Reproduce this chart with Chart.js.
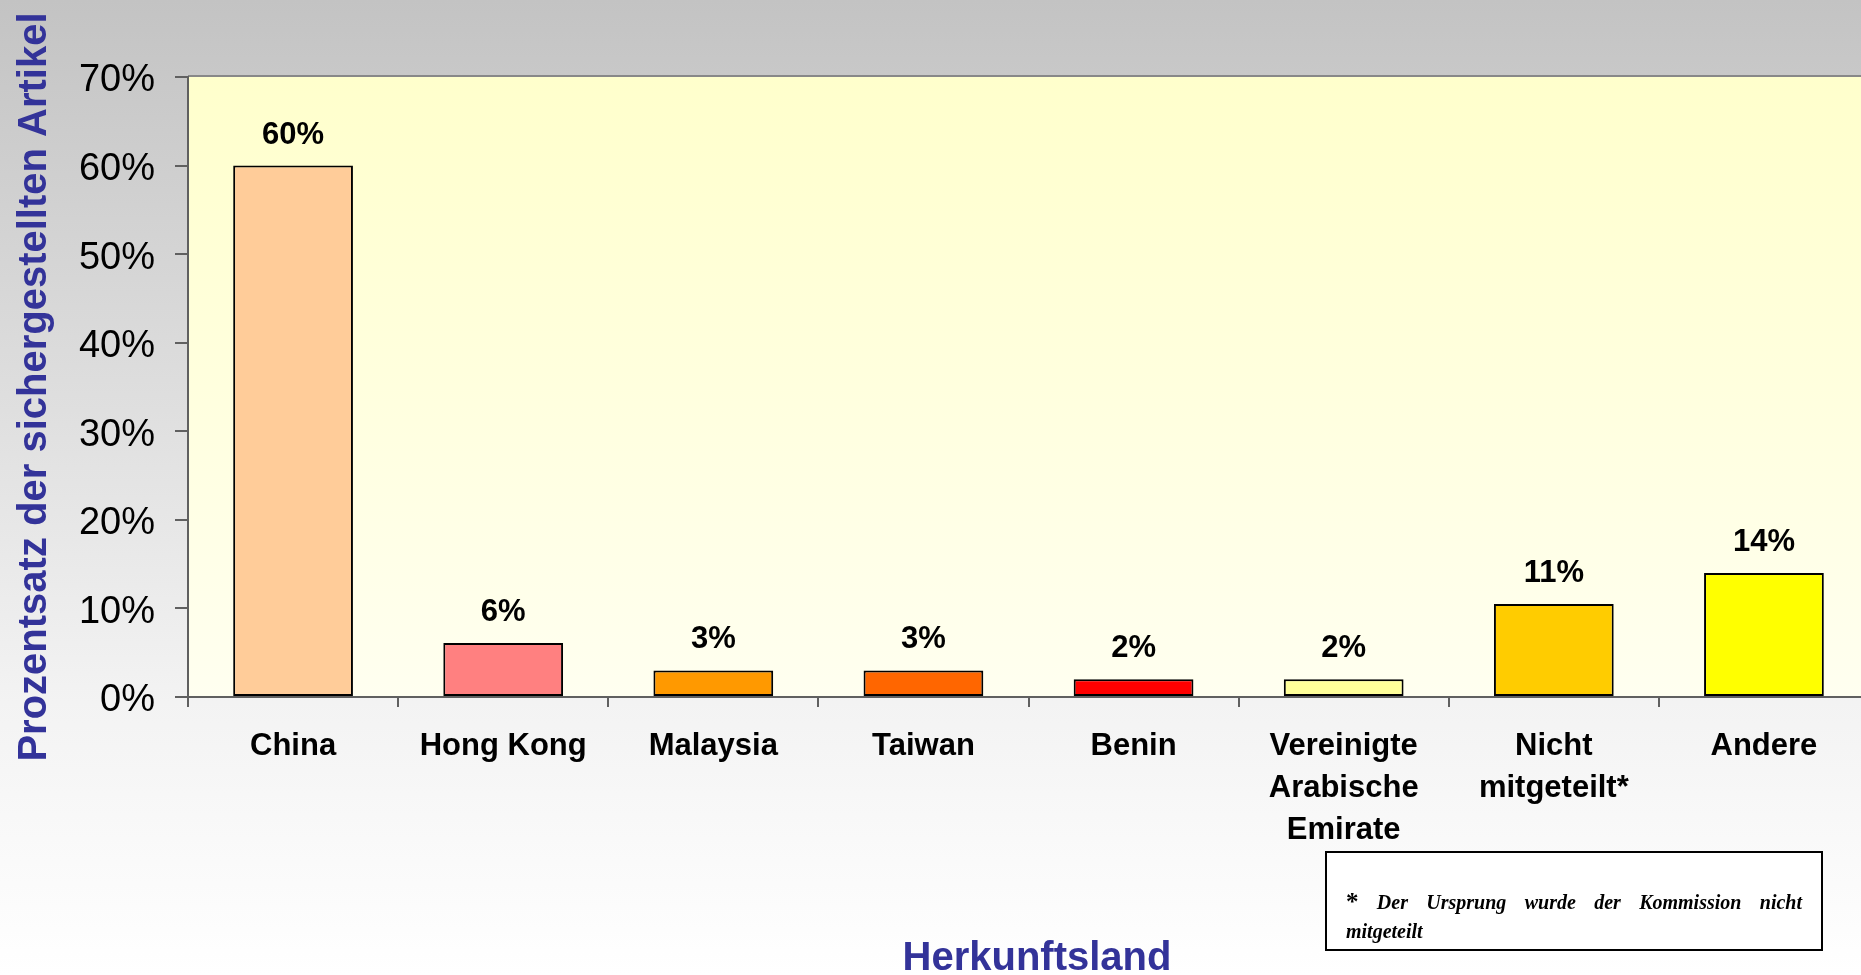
<!DOCTYPE html>
<html>
<head>
<meta charset="utf-8">
<title>Herkunftsland</title>
<script src="https://cdn.jsdelivr.net/npm/chart.js@4.4.1/dist/chart.umd.min.js"></script>
<style>
  html, body { margin: 0; padding: 0; background: #fff; overflow: hidden; }
  #wrap { width: 1861px; height: 975px; overflow: hidden; }
</style>
</head>
<body>
<div id="wrap"><canvas id="barChartCanvas" width="1869" height="975"></canvas></div>
<script>
// data
var countries = ['China', 'Hong Kong', 'Malaysia', 'Taiwan', 'Benin',
  ['Vereinigte', 'Arabische', 'Emirate'], ['Nicht', 'mitgeteilt*'], 'Andere'];
var shares = [60, 6.1, 3, 3, 2, 2, 10.5, 14];
var barColors = ['#FFCC99', '#FF8080', '#FF9900', '#FF6600', '#FF0000', '#FFFF99', '#FFCC00', '#FFFF00'];
var yTicks = [0, 10, 20, 30, 40, 50, 60, 70];
var yTitle = 'Prozentsatz der sichergestellten Artikel';
var xTitle = 'Herkunftsland';
var footnote = ['*', 'Der', 'Ursprung', 'wurde', 'der', 'Kommission', 'nicht'];
var footnote2 = 'mitgeteilt';

Chart.defaults.font.family = '"Liberation Sans", Arial, sans-serif';
Chart.defaults.color = '#000';

// backgrounds: grey page gradient + pale yellow plot area
var backdrop = {
  id: 'backdrop',
  beforeDraw: function(chart) {
    var ctx = chart.ctx, a = chart.chartArea;
    ctx.save();
    var g = ctx.createLinearGradient(0, 0, 0, chart.height);
    g.addColorStop(0, '#C3C3C3');
    g.addColorStop(0.72, '#F3F3F3');
    g.addColorStop(1, '#FFFFFF');
    ctx.fillStyle = g;
    ctx.fillRect(0, 0, chart.width, chart.height);
    var g2 = ctx.createLinearGradient(0, a.top, 0, a.bottom);
    g2.addColorStop(0, '#FFFFCC');
    g2.addColorStop(1, '#FFFFF0');
    ctx.fillStyle = g2;
    ctx.fillRect(a.left, a.top, a.right - a.left, a.bottom - a.top);
    ctx.fillStyle = '#888888';
    ctx.fillRect(a.left, a.top - 2, a.right - a.left, 2);
    ctx.restore();
  }
};

// value labels above the bars, x axis title
var barLabels = {
  id: 'barLabels',
  afterDatasetsDraw: function(chart) {
    var ctx = chart.ctx;
    var meta = chart.getDatasetMeta(0);
    ctx.save();
    ctx.font = 'bold 31px "Liberation Sans", Arial, sans-serif';
    ctx.fillStyle = '#000';
    ctx.textAlign = 'center';
    ctx.textBaseline = 'alphabetic';
    meta.data.forEach(function(bar, i) {
      ctx.fillText(Math.round(shares[i]) + '%', bar.x, bar.y - 22);
    });
    ctx.font = 'bold 40px "Liberation Sans", Arial, sans-serif';
    ctx.fillStyle = '#333399';
    ctx.fillText(xTitle, 1037, 970);
    ctx.restore();
  }
};

// footnote box bottom right
var noteBox = {
  id: 'noteBox',
  afterDraw: function(chart) {
    var ctx = chart.ctx;
    ctx.save();
    ctx.fillStyle = '#FFFFFF';
    ctx.fillRect(1326, 852, 496, 98);
    ctx.strokeStyle = '#000';
    ctx.lineWidth = 2;
    ctx.strokeRect(1326, 852, 496, 98);
    ctx.fillStyle = '#000';
    ctx.textBaseline = 'alphabetic';
    var starFont = 'bold 25px "Liberation Serif", "Times New Roman", serif';
    var wordFont = 'italic bold 20px "Liberation Serif", "Times New Roman", serif';
    var left = 1346, right = 1802;
    var widths = footnote.map(function(w, i) {
      ctx.font = i === 0 ? starFont : wordFont;
      return ctx.measureText(w).width;
    });
    var total = widths.reduce(function(s, w) { return s + w; }, 0);
    var gap = (right - left - total) / (footnote.length - 1);
    var x = left;
    footnote.forEach(function(w, i) {
      ctx.font = i === 0 ? starFont : wordFont;
      ctx.fillText(w, x, i === 0 ? 910 : 909);
      x += widths[i] + gap;
    });
    ctx.font = wordFont;
    ctx.fillText(footnote2, left, 938);
    ctx.restore();
  }
};

var ctx = document.getElementById('barChartCanvas').getContext('2d');
var barChart = new Chart(ctx, {
  type: 'bar',
  data: {
    labels: countries,
    datasets: [{
      data: shares,
      backgroundColor: barColors,
      borderColor: '#000',
      borderWidth: 2,
      borderSkipped: false,
      categoryPercentage: 1,
      barPercentage: 0.57
    }]
  },
  options: {
    responsive: false,
    animation: false,
    layout: { padding: { top: 77, right: 0, bottom: 0, left: 0 } },
    plugins: {
      legend: { display: false },
      tooltip: { enabled: false }
    },
    scales: {
      y: {
        min: 0,
        max: 70,
        afterFit: function(scale) { scale.width = 188; },
        afterBuildTicks: function(scale) {
          scale.ticks = yTicks.map(function(v) { return { value: v }; });
        },
        ticks: {
          padding: 20,
          labelOffset: 4,
          font: { size: 38 },
          color: '#000',
          callback: function(v) { return v + '%'; }
        },
        grid: { drawOnChartArea: false, tickLength: 13, color: '#606060', lineWidth: 2 },
        border: { display: true, color: '#606060', width: 2 },
        title: {
          display: true,
          text: yTitle,
          color: '#333399',
          font: { size: 40, weight: 'bold', lineHeight: 1 },
          padding: { top: 15, bottom: 0 }
        }
      },
      x: {
        afterFit: function(scale) { scale.height = 278; },
        ticks: {
          padding: 19,
          maxRotation: 0,
          autoSkip: false,
          font: { size: 31, weight: 'bold', lineHeight: 1.35 },
          color: '#000'
        },
        grid: { offset: true, drawOnChartArea: false, tickLength: 10, color: '#606060', lineWidth: 2 },
        border: { display: true, color: '#606060', width: 2 }
      }
    }
  },
  plugins: [backdrop, barLabels, noteBox]
});
</script>
</body>
</html>
